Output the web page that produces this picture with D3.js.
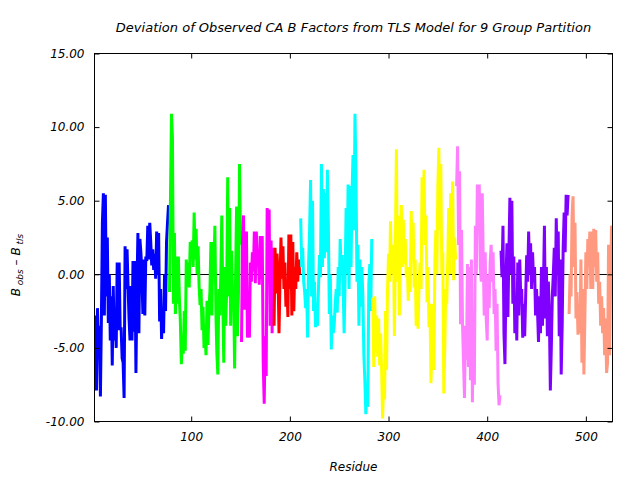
<!DOCTYPE html>
<html><head><meta charset="utf-8">
<script src="https://cdn.jsdelivr.net/npm/d3@7"></script>
<style>
body{margin:0;background:#fff}
svg{display:block}
text{font-family:"DejaVu Sans",sans-serif;font-style:italic;fill:#000}
</style>
</head><body>
<svg id="chart" width="640" height="480"></svg>
<script>
// ---- data ----
const title = "Deviation of Observed CA B Factors from TLS Model for 9 Group Partition";
const xLabel = "Residue";
const startResidues = [2, 78, 151, 184, 211, 284, 369, 414, 483];
const g1 = [-7.5,-2.8,-7.9,-2.3,-5.5,-3.5,-8.3,-3.0,3.5,5.5,-2.8,5.4,-1.5,2.5,-3.3,0.0,-4.5,-1.5,-6.2,-0.8,-4.5,-2.7,-5.0,0.8,-3.8,0.8,-3.7,-3.7,-5.7,-6.0,-8.4,1.9,-1.0,1.7,-0.8,-3.0,-4.5,-0.8,-4.5,0.9,-3.9,0.9,-6.7,-1.0,2.8,-4.0,2.4,1.5,0.2,-2.7,1.0,-2.8,1.2,0.9,3.3,1.0,3.5,2.2,0.6,1.7,0.3,1.4,-0.3,2.9,0.0,2.8,-3.2,-1.0,-4.4,-2.6,-4.0,0.0,-2.5,2.2,3.5,4.7];
const g2 = [-1.2,5.3,10.9,9.3,-2.0,2.8,-2.7,1.2,-2.0,1.2,-1.6,-3.2,-6.1,-4.5,-5.4,-2.5,-5.2,1.0,-0.8,0.8,-0.9,2.2,1.8,2.3,0.5,4.2,1.0,3.1,0.0,1.9,-0.8,-2.1,-1.0,-3.8,-2.2,-5.0,-4.0,-5.5,-1.8,-4.8,-2.4,-1.1,2.2,-2.8,2.2,0.0,3.3,-2.5,-5.4,-6.8,-1.0,-2.8,0.0,4.0,-1.5,-6.0,0.5,-3.5,-1.0,6.6,-1.5,4.5,-3.5,1.6,-1.5,-1.0,-6.4,0.0,4.6,-4.2,-1.0,7.5,2.0];
const g3 = [-4.6,2.3,4.0,-2.4,1.0,2.9,-4.3,-1.8,-4.3,0.8,-0.5,1.5,0.2,2.9,-0.6,2.9,1.0,1.5,-0.7,2.6,-0.3,2.6,-6.0,-8.8,-4.2,-6.9,4.5,1.0,4.4,-3.5,2.3,-4.0,1.8];
const g4 = [-3.5,1.8,-1.3,1.4,0.0,-4.0,-0.5,2.5,-0.3,1.9,-1.0,0.8,-2.2,-0.5,-2.9,2.7,-1.0,2.7,-2.8,2.2,-2.5,0.5,-1.0,1.5,-0.5,1.0,0.0];
const g5 = [3.8,0.5,1.8,-0.5,-1.2,-2.3,-1.0,-4.3,0.8,3.0,6.4,-1.5,5.0,-2.5,-0.5,-3.6,-2.0,-3.5,-1.0,1.3,-0.2,7.5,0.5,5.8,1.1,5.5,1.5,7.1,3.5,-2.7,0.0,-5.1,-2.8,-4.0,-3.4,-1.9,-1.0,-2.6,0.5,-1.5,2.4,0.0,1.3,-1.0,-4.0,-0.3,4.5,0.0,6.1,-1.0,6.0,0.5,5.5,8.1,3.0,10.9,7.0,-0.5,2.0,-3.5,1.0,-2.2,0.5,-1.5,-5.5,-7.2,-9.5,-8.0,-9.0,-0.7,0.7,-2.5,2.4];
const g6 = [-1.6,-6.3,-1.5,-5.3,-2.8,-5.6,-3.0,-6.2,-4.0,-6.5,-9.8,-7.5,-8.5,-2.5,-6.5,-1.0,1.4,-0.5,3.6,0.0,0.8,2.0,-4.2,2.5,8.5,-0.5,4.0,-2.8,1.0,4.7,0.5,3.7,0.7,2.4,-0.2,0.5,-1.8,0.5,-1.2,4.3,1.0,3.5,-0.9,1.0,-3.5,-2.5,-3.7,-0.5,0.8,-1.0,6.6,4.0,7.1,2.0,4.0,-1.9,0.5,-3.6,-2.0,-7.4,-5.0,-2.0,-6.5,1.0,3.0,0.0,6.0,8.6,3.0,7.5,0.0,1.5,-8.1,-5.0,-1.0,-2.0,1.0,4.5,0.0,5.5,1.1,6.3,-0.4,2.5,1.0];
const g7 = [6.0,8.7,2.0,7.0,-3.4,3.0,-3.4,-6.0,-8.4,-3.5,-5.8,0.7,-6.3,0.5,-7.2,1.0,-8.7,-3.0,-7.5,3.3,0.0,6.1,3.0,6.1,0.5,-0.5,5.5,1.0,-2.8,1.5,-3.0,-4.5,0.0,-2.3,0.8,2.0,-0.5,1.5,-2.7,-1.0,-5.2,-2.0,-7.4,-8.9,-8.2];
const g8 = [1.6,-0.2,3.3,-4.0,-6.1,-0.5,2.1,-2.9,1.5,5.2,0.0,5.0,-2.0,1.2,-4.0,-1.5,-4.5,0.8,-2.8,1.0,-1.5,-1.0,-4.3,-2.0,-4.2,-1.5,1.3,-0.5,2.9,0.0,2.1,-1.0,1.5,-0.5,0.5,-2.8,-1.0,-2.5,-4.6,-1.5,-4.0,0.5,-3.5,-1.0,3.3,-3.0,0.5,-4.2,-0.5,-2.7,-7.9,-5.0,-1.5,0.0,1.8,-1.5,3.8,0.0,2.9,-4.2,1.0,-6.8,-3.5,1.8,4.2,1.5,5.4,4.0,5.4];
const g9 = [-2.7,0.0,-1.5,4.0,5.3,0.5,3.5,-3.0,-1.2,-4.1,-2.0,-4.0,1.0,-6.0,-1.0,-6.8,-3.0,1.5,-1.0,2.4,0.5,2.9,-1.0,2.9,-1.0,3.1,0.5,3.0,-0.5,1.5,-2.0,-0.5,-3.5,-1.5,-4.0,-2.3,-5.5,-3.0,-6.7,-6.0,2.0,-5.5,-1.0,3.3,2.5];
const groups = [g1, g2, g3, g4, g5, g6, g7, g8, g9];
const xTicks = [100, 200, 300, 400, 500];
const yTicks = [-10, -5, 0, 5, 10, 15];
const xDomain = [2, 527];
const yDomain = [-10, 15];

// ---- styles ----
const colors = ["#0000ff","#00ff00","#ff00ff","#ff0000","#00ffff","#ffff00","#ff80ff","#8000ff","#ff9980"];

const svg = d3.select("#chart");
const L = 94.5, R = 612.5, T = 53.5, B = 421.5;
const x = d3.scaleLinear().domain(xDomain).range([L, R]);
const y = d3.scaleLinear().domain(yDomain).range([B, T]);

// zero line
svg.append("line").attr("x1", L).attr("x2", R).attr("y1", Math.round(y(0)) + 0.5).attr("y2", Math.round(y(0)) + 0.5)
  .attr("stroke", "#000").attr("stroke-width", 1);

// data lines
const lineGen = d3.line().x(d => x(d[0])).y(d => y(d[1]));
const clip = svg.append("clipPath").attr("id", "clip").append("rect")
  .attr("x", L).attr("y", T).attr("width", R - L).attr("height", B - T);
groups.forEach((g, gi) => {
  const pts = g.map((v, i) => [startResidues[gi] + i, v]);
  svg.append("path").datum(pts).attr("d", lineGen)
    .attr("clip-path", "url(#clip)")
    .attr("fill", "none").attr("stroke", colors[gi]).attr("stroke-width", 3)
    .attr("stroke-linejoin", "miter").attr("stroke-linecap", "butt");
});

// axes
const fmt = d => d.toFixed(2);
const axB = svg.append("g").attr("transform", `translate(0,${B})`)
  .call(d3.axisBottom(x).tickValues(xTicks).tickSizeInner(-5).tickSizeOuter(0).tickPadding(11));
const axT = svg.append("g").attr("transform", `translate(0,${T})`)
  .call(d3.axisTop(x).tickValues(xTicks).tickSizeInner(-5).tickSizeOuter(0).tickFormat(""));
const axL = svg.append("g").attr("transform", `translate(${L},0)`)
  .call(d3.axisLeft(y).tickValues(yTicks).tickSizeInner(-5).tickSizeOuter(0).tickPadding(10).tickFormat(fmt));
const axR = svg.append("g").attr("transform", `translate(${R},0)`)
  .call(d3.axisRight(y).tickValues(yTicks).tickSizeInner(-5).tickSizeOuter(0).tickFormat(""));
[axB, axT, axL, axR].forEach(a => {
  a.select(".domain").remove();
  a.selectAll("line").attr("stroke", "#000");
  a.selectAll("text").attr("font-family", "DejaVu Sans").attr("font-style", "italic").attr("font-size", 12);
});

// border
svg.append("rect").attr("x", L).attr("y", T).attr("width", R - L).attr("height", B - T)
  .attr("fill", "none").attr("stroke", "#000").attr("stroke-width", 1);

// title
svg.append("text").attr("x", (L + R) / 2).attr("y", 32).attr("text-anchor", "middle")
  .attr("font-size", 13).text(title);
// x label
svg.append("text").attr("x", (L + R) / 2).attr("y", 471).attr("text-anchor", "middle")
  .attr("font-size", 12).text(xLabel);
// y label
const yl = svg.append("text").attr("transform", "translate(20,265) rotate(-90)")
  .attr("text-anchor", "middle").attr("font-size", 12);
yl.append("tspan").text("B");
yl.append("tspan").attr("font-size", 9).attr("dy", 3).text(" obs");
yl.append("tspan").attr("dy", -3).text(" \u2013 B");
yl.append("tspan").attr("font-size", 9).attr("dy", 3).text(" tls");
</script>
</body></html>
